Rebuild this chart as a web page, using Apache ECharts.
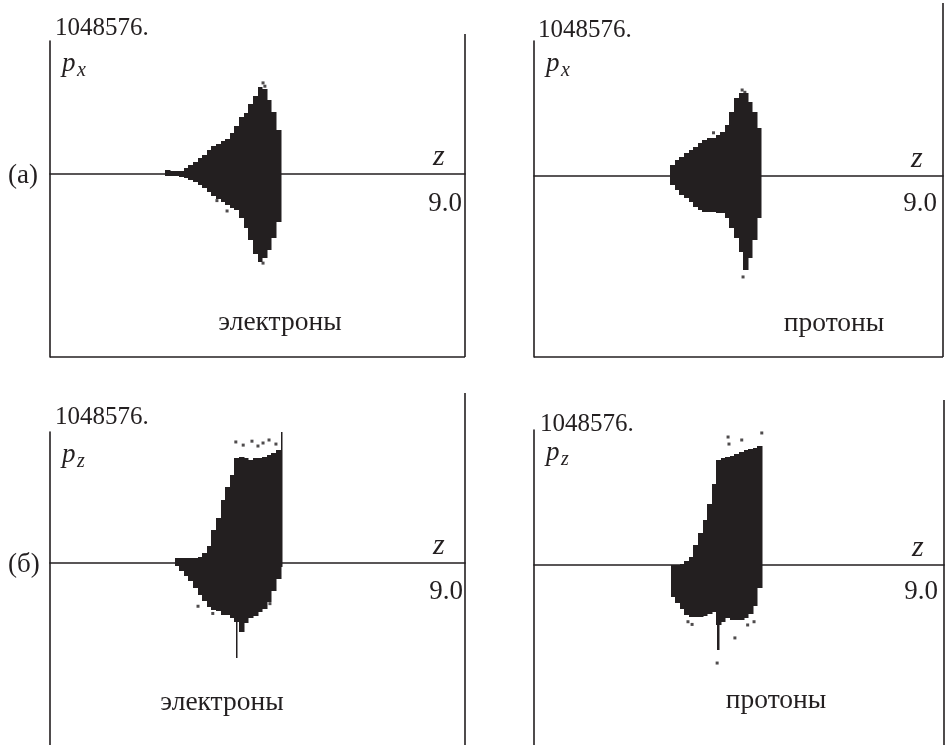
<!DOCTYPE html>
<html>
<head>
<meta charset="utf-8">
<script src="https://cdn.jsdelivr.net/npm/echarts@6/dist/echarts.min.js"></script>
<style>
  html, body { margin: 0; padding: 0; background: #fff; }
  #chart { width: 946px; height: 745px; }
</style>
</head>
<body>
<div id="chart"></div>
<script>
// подписи осей
const yTopLabel = '1048576.'
const xEndLabel = '9.0'
const zMin = 0
const zMax = 9
const zStep = 0.1

// (а) электроны, p_x : колонки [z, z+0.1], верх/низ в единицах 1048576
const zElecPx = [2.5, 2.6, 2.7, 2.8, 2.9, 3.0, 3.1, 3.2, 3.3, 3.4, 3.5, 3.6, 3.7, 3.8, 3.9, 4.0, 4.1, 4.2, 4.3, 4.4, 4.5, 4.6, 4.7, 4.8, 4.9]
const topElecPx = [0.03, 0.02, 0.02, 0.025, 0.045, 0.068, 0.09, 0.12, 0.143, 0.18, 0.21, 0.226, 0.248, 0.263, 0.308, 0.36, 0.43, 0.459, 0.526, 0.586, 0.655, 0.64, 0.556, 0.466, 0.33]
const botElecPx = [-0.015, -0.015, -0.015, -0.02, -0.03, -0.045, -0.06, -0.083, -0.105, -0.135, -0.165, -0.188, -0.21, -0.233, -0.256, -0.27, -0.33, -0.406, -0.496, -0.6, -0.662, -0.632, -0.571, -0.48, -0.36]
const strayElecPx = [[4.62, 0.685], [4.66, 0.66], [4.62, -0.67], [3.84, -0.278], [3.62, -0.2]]

// (а) протоны, p_x
const zProtPx = [3.0, 3.1, 3.2, 3.3, 3.4, 3.5, 3.6, 3.7, 3.8, 3.9, 4.0, 4.1, 4.2, 4.3, 4.4, 4.5, 4.6, 4.7, 4.8, 4.9]
const topProtPx = [0.081, 0.119, 0.141, 0.17, 0.193, 0.215, 0.244, 0.267, 0.281, 0.281, 0.304, 0.326, 0.378, 0.474, 0.578, 0.615, 0.615, 0.548, 0.474, 0.356]
const botProtPx = [-0.067, -0.104, -0.141, -0.163, -0.193, -0.23, -0.252, -0.267, -0.267, -0.267, -0.274, -0.274, -0.311, -0.385, -0.459, -0.563, -0.696, -0.607, -0.474, -0.311]
const strayProtPx = [[4.58, 0.637], [4.64, 0.62], [4.6, -0.748], [4.38, 0.45], [3.95, 0.32]]

// (б) электроны, p_z
const zElecPz = [2.7, 2.8, 2.9, 3.0, 3.1, 3.2, 3.3, 3.4, 3.5, 3.6, 3.7, 3.8, 3.9, 4.0, 4.1, 4.2, 4.3, 4.4, 4.5, 4.6, 4.7, 4.8, 4.9]
const topElecPz = [0.036, 0.036, 0.036, 0.036, 0.036, 0.048, 0.074, 0.13, 0.25, 0.34, 0.48, 0.58, 0.67, 0.8, 0.811, 0.799, 0.786, 0.799, 0.799, 0.811, 0.824, 0.837, 0.863]
const botElecPz = [-0.028, -0.066, -0.104, -0.142, -0.193, -0.244, -0.295, -0.333, -0.359, -0.372, -0.397, -0.397, -0.422, -0.45, -0.524, -0.46, -0.422, -0.41, -0.38, -0.35, -0.3, -0.22, -0.12]
const spikeElecPz = [[4.03, -0.73, -0.4], [5.0, -0.03, 1.0]]
const strayElecPz = [[4.03, 0.924], [4.19, 0.9], [4.38, 0.93], [4.51, 0.893], [4.62, 0.916], [4.75, 0.939], [4.9, 0.908], [3.21, -0.33], [3.53, -0.385], [4.77, -0.31]]

// (б) протоны, p_z
const zProtPz = [3.0, 3.1, 3.2, 3.3, 3.4, 3.5, 3.6, 3.7, 3.8, 3.9, 4.0, 4.1, 4.2, 4.3, 4.4, 4.5, 4.6, 4.7, 4.8, 4.9]
const topProtPz = [0.0, 0.0, 0.01, 0.03, 0.06, 0.15, 0.237, 0.333, 0.45, 0.6, 0.778, 0.793, 0.8, 0.807, 0.822, 0.837, 0.852, 0.859, 0.867, 0.881]
const botProtPz = [-0.24, -0.28, -0.32, -0.37, -0.385, -0.385, -0.385, -0.378, -0.363, -0.348, -0.444, -0.422, -0.393, -0.407, -0.407, -0.407, -0.393, -0.363, -0.3, -0.17]
const spikeProtPz = [[4.02, -0.63, -0.35]]
const strayProtPz = [[4.02, -0.726], [5.0, 0.978], [4.56, 0.926], [4.28, 0.896], [4.26, 0.948], [4.41, -0.54], [3.38, -0.42], [3.47, -0.44], [4.69, -0.444], [4.83, -0.42]]

const ink = '#231f20'
const serif = '"Liberation Serif", "DejaVu Serif", serif'
const lineW = 1.6

// раскладка панелей (пиксели)
const panels = [
  { left: 50, top: 41, width: 415, height: 316, yMin: -1.376, frameTop: 34, boxBottom: true,
    zs: zElecPx, hi: topElecPx, lo: botElecPx, spikes: [], stray: strayElecPx,
    nameGap: 13, namePad: 5, labelMargin: 16, labelPad: 3,
    tag: '(а)', tagY: 176, axisSym: 'x', particle: 'электроны', partX: 280, partY: 323 },
  { left: 534, top: 41, width: 409, height: 316, yMin: -1.341, frameTop: 3, boxBottom: true,
    zs: zProtPx, hi: topProtPx, lo: botProtPx, spikes: [], stray: strayProtPx,
    nameGap: 11, namePad: 4, labelMargin: 14, labelPad: 6,
    tag: '', axisSym: 'x', particle: 'протоны', partX: 834, partY: 324 },
  { left: 50, top: 432, width: 415, height: 313, yMin: -1.389, frameTop: 393, boxBottom: false,
    zs: zElecPz, hi: topElecPz, lo: botElecPz, spikes: spikeElecPz, stray: strayElecPz,
    nameGap: 15, namePad: 5, labelMargin: 15, labelPad: 2,
    tag: '(б)', tagY: 565, axisSym: 'z', particle: 'электроны', partX: 222, partY: 703 },
  { left: 534, top: 430, width: 410, height: 315, yMin: -1.333, frameTop: 400, boxBottom: false,
    zs: zProtPz, hi: topProtPz, lo: botProtPz, spikes: spikeProtPz, stray: strayProtPz,
    nameGap: 6, namePad: 6, labelMargin: 13, labelPad: 6,
    tag: '', axisSym: 'z', particle: 'протоны', partX: 776, partY: 701 }
]

// колонка фазового портрета: прямоугольник от нижней до верхней границы
function makeRender(w) {
  return function (params, api) {
    const z = api.value(0)
    const a = api.coord([z, api.value(2)])
    const b = api.coord([z + w, api.value(1)])
    const x0 = Math.round(a[0])
    const x1 = Math.max(Math.round(b[0]), x0 + 1)
    return {
      type: 'rect',
      shape: { x: x0, y: Math.round(a[1]), width: x1 - x0 + 0.5, height: Math.max(Math.round(b[1] - a[1]), 1) },
      style: { fill: ink }
    }
  }
}

const grid = []
const xAxis = []
const yAxis = []
const series = []
const graphic = []

panels.forEach((p, i) => {
  const right = p.left + p.width
  const bottom = p.top + p.height
  const zeroY = p.top + p.height / (1 - p.yMin)

  grid.push({ left: p.left, top: p.top, width: p.width, height: p.height })
  xAxis.push({
    gridIndex: i, type: 'value', min: zMin, max: zMax, interval: zMax - zMin,
    offset: zeroY - bottom,
    axisLine: { onZero: false, lineStyle: { color: ink, width: lineW } },
    axisTick: { show: false }, splitLine: { show: false },
    axisLabel: {
      showMinLabel: false, showMaxLabel: true,
      formatter: v => (v === zMax ? xEndLabel : ''),
      align: 'right', margin: p.labelMargin, padding: [0, p.labelPad, 0, 0],
      fontSize: 27, fontFamily: serif, color: ink
    }
  })
  yAxis.push({
    gridIndex: i, type: 'value', min: p.yMin, max: 1,
    axisLine: { show: true, onZero: false, lineStyle: { color: ink, width: lineW } },
    axisTick: { show: false }, axisLabel: { show: false }, splitLine: { show: false },
    name: yTopLabel, nameLocation: 'end', nameGap: p.nameGap,
    nameTextStyle: { align: 'left', verticalAlign: 'middle', padding: [0, 0, 0, p.namePad],
      fontSize: 25, fontFamily: serif, color: ink }
  })
  series.push({
    type: 'custom', xAxisIndex: i, yAxisIndex: i, renderItem: makeRender(zStep),
    encode: { x: 0, y: [1, 2] }, clip: true,
    data: p.zs.map((z, k) => [z, p.lo[k], p.hi[k]])
  })
  if (p.spikes.length) {
    series.push({
      type: 'custom', xAxisIndex: i, yAxisIndex: i, renderItem: makeRender(0.03),
      encode: { x: 0, y: [1, 2] }, clip: true, data: p.spikes
    })
  }
  series.push({
    type: 'scatter', xAxisIndex: i, yAxisIndex: i, symbol: 'rect', symbolSize: 3,
    itemStyle: { color: ink }, data: p.stray
  })

  // рамка: правая граница и (для верхнего ряда) нижняя
  graphic.push({ type: 'line', shape: { x1: right, y1: p.frameTop, x2: right, y2: bottom },
    style: { stroke: ink, lineWidth: lineW } })
  if (p.boxBottom) {
    graphic.push({ type: 'line', shape: { x1: p.left, y1: bottom, x2: right, y2: bottom },
      style: { stroke: ink, lineWidth: lineW } })
  }

  // подписи
  if (p.tag) {
    graphic.push({ type: 'text', x: 8, y: p.tagY,
      style: { text: p.tag, font: '27px ' + serif, fill: ink, align: 'left', verticalAlign: 'middle' } })
  }
  graphic.push({ type: 'text', x: p.left + 12, y: p.top + 23,
    style: { text: 'p', font: 'italic 27px ' + serif, fill: ink, align: 'left', verticalAlign: 'middle' } })
  graphic.push({ type: 'text', x: p.left + 27, y: p.top + 30,
    style: { text: p.axisSym, font: 'italic 20px ' + serif, fill: ink, align: 'left', verticalAlign: 'middle' } })
  graphic.push({ type: 'text', x: right - 32, y: zeroY - 17,
    style: { text: 'z', font: 'italic 30px ' + serif, fill: ink, align: 'left', verticalAlign: 'middle' } })
  graphic.push({ type: 'text', x: p.partX, y: p.partY,
    style: { text: p.particle, font: '27.5px ' + serif, fill: ink, align: 'center', verticalAlign: 'middle' } })
})

const chart = echarts.init(document.getElementById('chart'))
chart.setOption({
  backgroundColor: '#fff',
  animation: false,
  grid: grid,
  xAxis: xAxis,
  yAxis: yAxis,
  series: series,
  graphic: { elements: graphic }
})
</script>
</body>
</html>
